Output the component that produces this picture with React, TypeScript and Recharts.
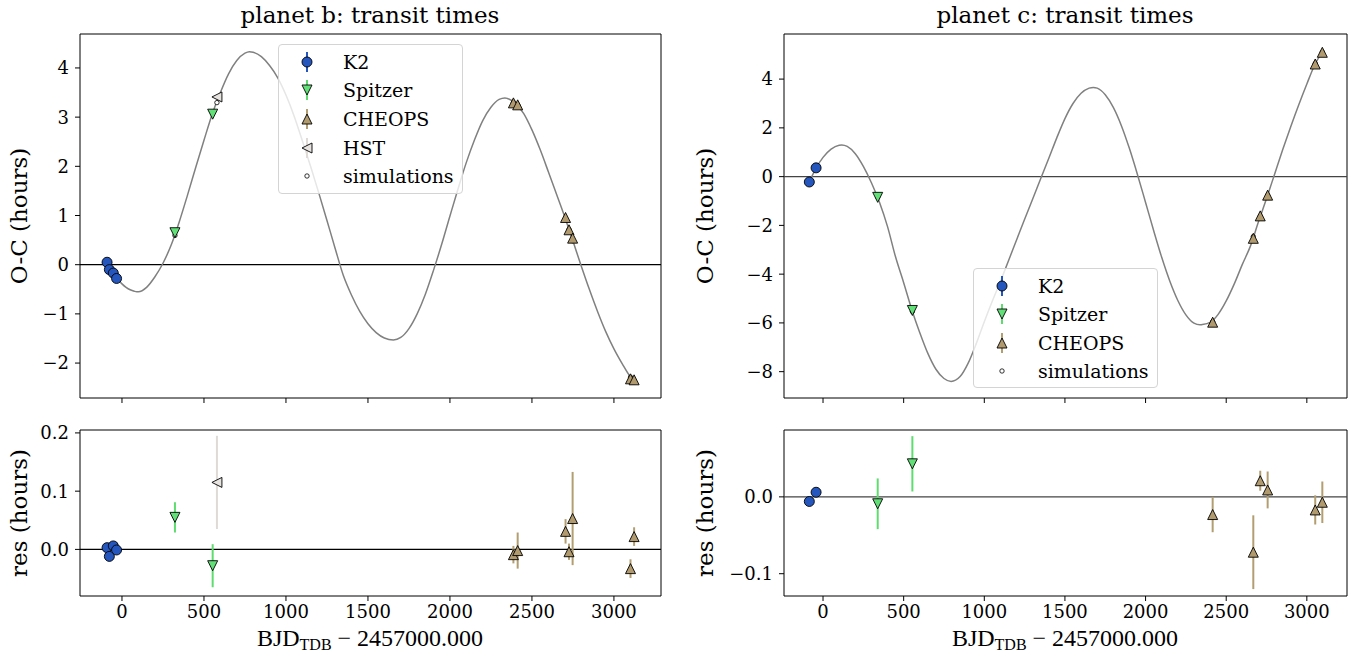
import React from 'react';
import { ComposedChart, Line, Scatter, ErrorBar, XAxis, YAxis, ReferenceLine, ReferenceArea } from 'recharts';

const SERIF = '"DejaVu Serif", serif';
const X_TICKS = [0, 500, 1000, 1500, 2000, 2500, 3000];

// ---- planet b ----
const bK2Epoch = [-91, -77, -53, -33];
const bK2OC = [0.05, -0.1, -0.17, -0.28];
const bK2Res = [0.003, -0.012, 0.006, -0.001];
const bK2Err = [0.004, 0.007, 0.004, 0.004];

const bSpitzerEpoch = [323, 553];
const bSpitzerOC = [0.65, 3.06];
const bSpitzerRes = [0.055, -0.028];
const bSpitzerErr = [0.026, 0.037];

const bCheopsEpoch = [2387, 2413, 2705, 2726, 2748, 3101, 3123];
const bCheopsOC = [3.29, 3.25, 0.96, 0.71, 0.54, -2.32, -2.34];
const bCheopsRes = [-0.009, -0.002, 0.031, -0.004, 0.053, -0.033, 0.022];
const bCheopsErr = [0.015, 0.031, 0.021, 0.014, 0.08, 0.016, 0.016];

const bHstEpoch = [579];
const bHstOC = [3.41];
const bHstRes = [0.115];
const bHstErr = [0.08];

// simulated transit times at the observed epochs
const bSimEpoch = [-91, -77, -53, -33, 323, 553, 579, 2387, 2413, 2705, 2726, 2748, 3101, 3123];
const bSimOC = [0.047, -0.088, -0.176, -0.279, 0.595, 3.088, 3.295, 3.299, 3.252, 0.929, 0.714, 0.487, -2.287, -2.362];

const bModelEpoch = [
  -91, -75, -50, -25, 0, 25, 50, 75, 90,
  100, 150, 200, 250, 300, 350, 400, 450, 500, 550, 600, 650, 700, 750, 777,
  800, 850, 900, 950, 1000, 1050, 1100, 1150, 1200, 1250, 1300, 1350, 1400, 1450, 1500, 1550, 1600, 1655,
  1700, 1750, 1800, 1850, 1900, 1950, 2000, 2050, 2100, 2150, 2200, 2250, 2300, 2335,
  2350, 2400, 2450, 2500, 2550, 2600, 2650, 2700, 2750, 2800, 2850, 2900, 2950, 3000, 3050, 3100, 3140,
];
const bModelOC = [
  0.05, -0.07, -0.18, -0.3, -0.39, -0.46, -0.51, -0.54, -0.55,
  -0.55, -0.46, -0.25, 0.03, 0.4, 0.88, 1.42, 1.98, 2.53, 3.06, 3.5, 3.88, 4.15, 4.3, 4.33,
  4.32, 4.23, 4.05, 3.8, 3.45, 3.02, 2.52, 2.0, 1.46, 0.9, 0.33, -0.22, -0.62, -0.95, -1.2, -1.38, -1.49, -1.53,
  -1.48, -1.3, -1.0, -0.6, -0.11, 0.42, 0.99, 1.55, 2.08, 2.54, 2.93, 3.2, 3.36, 3.39,
  3.38, 3.28, 3.07, 2.74, 2.34, 1.89, 1.43, 0.97, 0.48, -0.02, -0.5, -0.95, -1.36, -1.71, -2.01, -2.28, -2.42,
];

// ---- planet c ----
const cK2Epoch = [-85, -43];
const cK2OC = [-0.22, 0.36];
const cK2Res = [-0.006, 0.006];
const cK2Err = [0.003, 0.003];

const cSpitzerEpoch = [339, 554];
const cSpitzerOC = [-0.85, -5.49];
const cSpitzerRes = [-0.009, 0.043];
const cSpitzerErr = [0.033, 0.036];

const cCheopsEpoch = [2416, 2668, 2711, 2757, 3052, 3096];
const cCheopsOC = [-5.97, -2.53, -1.61, -0.76, 4.62, 5.1];
const cCheopsRes = [-0.023, -0.072, 0.021, 0.009, -0.017, -0.007];
const cCheopsErr = [0.023, 0.048, 0.013, 0.024, 0.019, 0.027];

const cSimEpoch = [-85, -43, 339, 554, 2416, 2668, 2711, 2757, 3052, 3096];
const cSimOC = [-0.214, 0.354, -0.841, -5.533, -5.947, -2.458, -1.631, -0.769, 4.637, 5.107];

const cModelEpoch = [
  -85, -43, 0, 50, 100, 116,
  150, 200, 250, 300, 350, 400, 450, 500, 554, 600, 650, 700, 750, 794,
  850, 900, 950, 1000, 1050, 1100, 1150, 1200, 1250, 1300, 1350, 1400, 1450, 1500, 1550, 1600, 1650, 1676,
  1700, 1750, 1800, 1850, 1900, 1950, 2000, 2050, 2100, 2150, 2200, 2250, 2300, 2337,
  2350, 2400, 2450, 2500, 2550, 2600, 2650, 2700, 2750, 2800, 2850, 2900, 2950, 3000, 3050, 3100,
];
const cModelOC = [
  -0.21, 0.35, 0.79, 1.13, 1.29, 1.3,
  1.24, 0.94, 0.42, -0.25, -1.05, -2.05, -3.3, -4.35, -5.53, -6.4, -7.25, -7.9, -8.28, -8.4,
  -8.2, -7.65, -6.85, -5.95, -5.1, -4.3, -3.45, -2.6, -1.75, -0.92, -0.08, 0.75, 1.6, 2.38, 3.0, 3.42, 3.63, 3.66,
  3.63, 3.36, 2.84, 2.09, 1.15, 0.08, -1.06, -2.21, -3.31, -4.28, -5.08, -5.67, -6.01, -6.08,
  -6.07, -5.98, -5.65, -5.1, -4.4, -3.6, -2.85, -1.85, -0.9, 0.1, 1.1, 2.05, 2.95, 3.8, 4.6, 5.15,
];

const COLORS = {
  K2: { fill: '#2456be', err: '#2456be' },
  Spitzer: { fill: '#62e078', err: '#5fdc70' },
  CHEOPS: { fill: '#b09a6e', err: '#b39e72' },
  HST: { fill: '#e6e3e0', err: '#dedad6' },
};

type Pt = { x: number; y: number; err: number };
const zip = (xs: number[], ys: number[], es?: number[]): Pt[] =>
  xs.map((x, i) => ({ x, y: ys[i], err: es ? es[i] : 0 }));

const marker = (kind: string, cx: number, cy: number, fill: string) => {
  const s = 5;
  const common = { fill, stroke: '#000', strokeWidth: 0.9 };
  switch (kind) {
    case 'o':
      return <circle cx={cx} cy={cy} r={5} {...common} />;
    case 'v':
      return <path d={`M${cx - s},${cy - s}L${cx + s},${cy - s}L${cx},${cy + s}Z`} {...common} />;
    case '^':
      return <path d={`M${cx},${cy - s}L${cx + s},${cy + s}L${cx - s},${cy + s}Z`} {...common} />;
    case '<':
      return <path d={`M${cx - s},${cy}L${cx + s},${cy - s}L${cx + s},${cy + s}Z`} {...common} />;
    default:
      return <circle cx={cx} cy={cy} r={2.2} fill="#fff" stroke="#000" strokeWidth={0.8} />;
  }
};

const shapeOf = (kind: string, fill: string) => (p: any) => marker(kind, p.cx, p.cy, fill);

type Group = { name: string; kind: string; data: Pt[] };

const fmtX = (v: number) => String(v);
const fmtInt = (v: number) => (v < 0 ? '\u2212' + Math.abs(v) : String(v));
const fmtDec = (v: number) => (v < 0 ? '\u2212' + Math.abs(v).toFixed(1) : v.toFixed(1));

const tickStyle = { fill: '#000', fontSize: 18, fontFamily: SERIF };

type PanelProps = {
  left: number;
  top: number;
  width: number;
  height: number;
  yAxisW: number;
  mTop: number;
  mRight: number;
  xAxisH: number;
  xDomain: [number, number];
  yDomain: [number, number];
  yTicks: number[];
  yFmt: (v: number) => string;
  showXLabels: boolean;
  model?: Pt[];
  sims?: Pt[];
  groups: Group[];
  residual: boolean;
  zeroColor: string;
};

const Panel = (p: PanelProps) => (
  <div style={{ position: 'absolute', left: p.left, top: p.top }}>
    <ComposedChart width={p.width} height={p.height} margin={{ top: p.mTop, right: p.mRight, bottom: 0, left: 0 }}>
      <XAxis
        type="number"
        dataKey="x"
        domain={p.xDomain}
        ticks={X_TICKS}
        allowDataOverflow
        height={p.xAxisH}
        tickSize={5}
        tickMargin={4}
        axisLine={false}
        tickLine={{ stroke: '#000' }}
        tick={tickStyle}
        tickFormatter={p.showXLabels ? fmtX : () => ''}
      />
      <YAxis
        type="number"
        dataKey="y"
        domain={p.yDomain}
        ticks={p.yTicks}
        allowDataOverflow
        width={p.yAxisW}
        tickSize={5}
        tickMargin={6}
        axisLine={false}
        tickLine={{ stroke: '#000' }}
        tick={tickStyle}
        tickFormatter={p.yFmt}
      />
      <ReferenceLine y={0} stroke={p.zeroColor} strokeWidth={1.3} />
      {p.model && (
        <Line
          data={p.model}
          dataKey="y"
          type="monotone"
          dot={false}
          stroke="#808080"
          strokeWidth={1.5}
          isAnimationActive={false}
        />
      )}
      {p.sims && (
        <Scatter data={p.sims} dataKey="y" shape={shapeOf('sim', '#fff')} isAnimationActive={false} />
      )}
      {p.groups.map((g) => (
        <Scatter
          key={g.name}
          data={g.data}
          dataKey="y"
          shape={shapeOf(g.kind, COLORS[g.name].fill)}
          isAnimationActive={false}
        >
          {p.residual && (
            <ErrorBar dataKey="err" direction="y" width={0} stroke={COLORS[g.name].err} strokeWidth={2} />
          )}
        </Scatter>
      ))}
      <ReferenceArea
        x1={p.xDomain[0]}
        x2={p.xDomain[1]}
        y1={p.yDomain[0]}
        y2={p.yDomain[1]}
        fill="none"
        stroke="#000"
        strokeWidth={1}
      />
    </ComposedChart>
  </div>
);

type LegendItem = { name: string; kind: string; label: string };

const LegendBox = ({ x, y, w, h, rows, markerX, textX, items }: {
  x: number; y: number; w: number; h: number; rows: number[]; markerX: number; textX: number; items: LegendItem[];
}) => (
  <div
    style={{
      position: 'absolute', left: x, top: y, width: w, height: h, boxSizing: 'border-box',
      border: '1px solid #d4d4d4', borderRadius: 4, background: 'rgba(255,255,255,0.8)',
    }}
  >
    {items.map((it, i) => (
      <React.Fragment key={it.label}>
        <svg width={24} height={24} style={{ position: 'absolute', left: markerX - x - 12, top: rows[i] - y - 12 }}>
          {it.kind !== 'sim' && (
            <line x1={12} x2={12} y1={2} y2={22} stroke={COLORS[it.name].err} strokeWidth={2} />
          )}
          {marker(it.kind, 12, 12, it.kind === 'sim' ? '#fff' : COLORS[it.name].fill)}
        </svg>
        <div
          style={{
            position: 'absolute', left: textX - x, top: rows[i] - y - 12, height: 24, lineHeight: '24px',
            fontFamily: SERIF, fontSize: 19, color: '#000', whiteSpace: 'nowrap',
          }}
        >
          {it.label}
        </div>
      </React.Fragment>
    ))}
  </div>
);

const Title = ({ cx, text }: { cx: number; text: string }) => (
  <div
    style={{
      position: 'absolute', left: cx - 200, width: 400, top: 1, height: 28, lineHeight: '28px',
      textAlign: 'center', fontFamily: SERIF, fontSize: 23, color: '#000', whiteSpace: 'nowrap',
    }}
  >
    {text}
  </div>
);

const YLabel = ({ cx, cy, text }: { cx: number; cy: number; text: string }) => (
  <div
    style={{
      position: 'absolute', left: cx - 100, top: cy - 15, width: 200, height: 30, lineHeight: '30px',
      textAlign: 'center', transform: 'rotate(-90deg)', fontFamily: SERIF, fontSize: 23, color: '#000',
      whiteSpace: 'nowrap',
    }}
  >
    {text}
  </div>
);

const XLabel = ({ cx }: { cx: number }) => (
  <div
    style={{
      position: 'absolute', left: cx - 200, width: 400, top: 625, textAlign: 'center',
      fontFamily: '"Liberation Serif", serif', fontSize: 24, color: '#000', whiteSpace: 'nowrap',
    }}
  >
    BJD<span style={{ fontSize: 16, verticalAlign: -4 }}>TDB</span> {'\u2212'} 2457000.000
  </div>
);

const bGroupsTop: Group[] = [
  { name: 'K2', kind: 'o', data: zip(bK2Epoch, bK2OC) },
  { name: 'Spitzer', kind: 'v', data: zip(bSpitzerEpoch, bSpitzerOC) },
  { name: 'CHEOPS', kind: '^', data: zip(bCheopsEpoch, bCheopsOC) },
  { name: 'HST', kind: '<', data: zip(bHstEpoch, bHstOC) },
];
const bGroupsRes: Group[] = [
  { name: 'K2', kind: 'o', data: zip(bK2Epoch, bK2Res, bK2Err) },
  { name: 'Spitzer', kind: 'v', data: zip(bSpitzerEpoch, bSpitzerRes, bSpitzerErr) },
  { name: 'CHEOPS', kind: '^', data: zip(bCheopsEpoch, bCheopsRes, bCheopsErr) },
  { name: 'HST', kind: '<', data: zip(bHstEpoch, bHstRes, bHstErr) },
];
const cGroupsTop: Group[] = [
  { name: 'K2', kind: 'o', data: zip(cK2Epoch, cK2OC) },
  { name: 'Spitzer', kind: 'v', data: zip(cSpitzerEpoch, cSpitzerOC) },
  { name: 'CHEOPS', kind: '^', data: zip(cCheopsEpoch, cCheopsOC) },
];
const cGroupsRes: Group[] = [
  { name: 'K2', kind: 'o', data: zip(cK2Epoch, cK2Res, cK2Err) },
  { name: 'Spitzer', kind: 'v', data: zip(cSpitzerEpoch, cSpitzerRes, cSpitzerErr) },
  { name: 'CHEOPS', kind: '^', data: zip(cCheopsEpoch, cCheopsRes, cCheopsErr) },
];

const legendB: LegendItem[] = [
  { name: 'K2', kind: 'o', label: 'K2' },
  { name: 'Spitzer', kind: 'v', label: 'Spitzer' },
  { name: 'CHEOPS', kind: '^', label: 'CHEOPS' },
  { name: 'HST', kind: '<', label: 'HST' },
  { name: 'sim', kind: 'sim', label: 'simulations' },
];
const legendC: LegendItem[] = legendB.filter((it) => it.name !== 'HST');

const B_X: [number, number] = [-256, 3287];
const C_X: [number, number] = [-242, 3249];

export default function App() {
  return (
    <div style={{ position: 'absolute', left: 0, top: 0, width: 1360, height: 661, background: '#fff', overflow: 'hidden' }}>
      <Panel
        left={0} top={0} width={680} height={410} yAxisW={80} mTop={34} mRight={19} xAxisH={12}
        xDomain={B_X} yDomain={[-2.71, 4.69]} yTicks={[-2, -1, 0, 1, 2, 3, 4]} yFmt={fmtInt}
        showXLabels={false} model={zip(bModelEpoch, bModelOC)} sims={zip(bSimEpoch, bSimOC)}
        groups={bGroupsTop} residual={false} zeroColor="#000"
      />
      <Panel
        left={0} top={410} width={680} height={251} yAxisW={80} mTop={20} mRight={19} xAxisH={65}
        xDomain={B_X} yDomain={[-0.08, 0.205]} yTicks={[0, 0.1, 0.2]} yFmt={fmtDec}
        showXLabels groups={bGroupsRes} residual zeroColor="#000"
      />
      <Panel
        left={700} top={0} width={660} height={410} yAxisW={84} mTop={34} mRight={13} xAxisH={12}
        xDomain={C_X} yDomain={[-9.08, 5.85]} yTicks={[-8, -6, -4, -2, 0, 2, 4]} yFmt={fmtInt}
        showXLabels={false} model={zip(cModelEpoch, cModelOC)} sims={zip(cSimEpoch, cSimOC)}
        groups={cGroupsTop} residual={false} zeroColor="#444"
      />
      <Panel
        left={700} top={410} width={660} height={251} yAxisW={84} mTop={20} mRight={13} xAxisH={65}
        xDomain={C_X} yDomain={[-0.129, 0.087]} yTicks={[-0.1, 0]} yFmt={fmtDec}
        showXLabels groups={cGroupsRes} residual zeroColor="#444"
      />

      <LegendBox x={278} y={44} w={185} h={150} rows={[61, 89, 118, 147, 175]} markerX={306} textX={342} items={legendB} />
      <LegendBox x={973} y={268} w={185} h={120} rows={[285, 313, 342, 370]} markerX={1001} textX={1037} items={legendC} />

      <Title cx={370} text="planet b: transit times" />
      <Title cx={1065} text="planet c: transit times" />
      <YLabel cx={19} cy={216} text="O-C (hours)" />
      <YLabel cx={19} cy={513} text="res (hours)" />
      <YLabel cx={705} cy={216} text="O-C (hours)" />
      <YLabel cx={705} cy={513} text="res (hours)" />
      <XLabel cx={370} />
      <XLabel cx={1065} />
    </div>
  );
}
